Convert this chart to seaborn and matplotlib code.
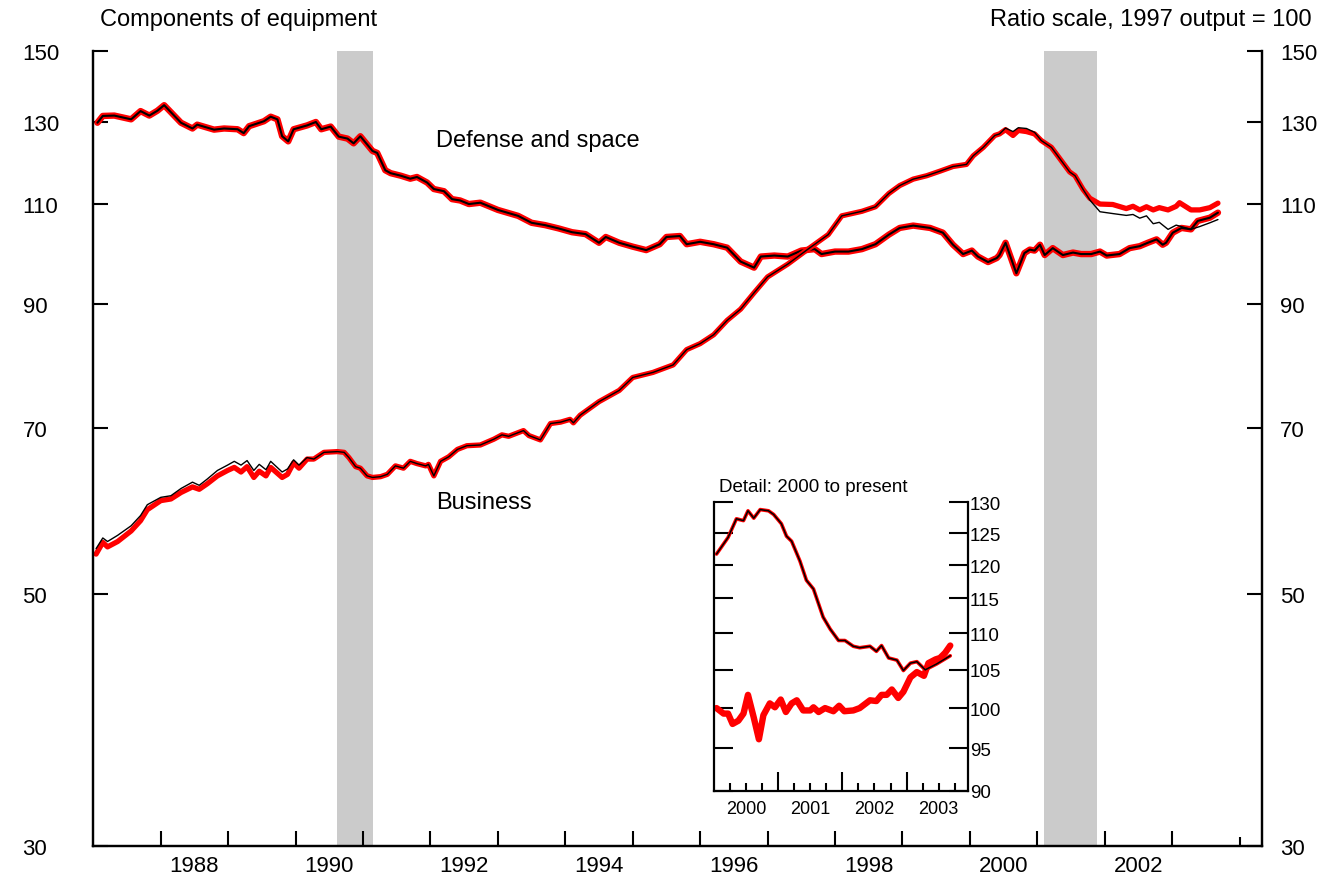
import numpy as np
import pandas as pd
import matplotlib
matplotlib.use("Agg")
import matplotlib.pyplot as plt
import seaborn as sns

# --- data (year fraction, index 1997 = 100) ---
business_t = [1987.04, 1987.14, 1987.21, 1987.36, 1987.56, 1987.70, 1987.80, 1988.00, 1988.15, 1988.30,
              1988.47, 1988.57, 1988.69, 1988.84, 1988.99, 1989.09, 1989.19, 1989.28, 1989.38, 1989.46,
              1989.56, 1989.63, 1989.80, 1989.88, 1989.97, 1990.05, 1990.17, 1990.27, 1990.42, 1990.62,
              1990.72, 1990.79, 1990.89, 1990.96, 1991.06, 1991.14, 1991.26, 1991.36, 1991.48, 1991.60,
              1991.70, 1991.80, 1991.93, 1991.97, 1992.05, 1992.15, 1992.27, 1992.40, 1992.54, 1992.74,
              1992.94, 1993.06, 1993.16, 1993.38, 1993.46, 1993.63, 1993.78, 1993.93, 1994.07, 1994.12,
              1994.22, 1994.50, 1994.80, 1995.00, 1995.30, 1995.60, 1995.80, 1996.00, 1996.20, 1996.40,
              1996.60, 1996.80, 1997.00, 1997.30, 1997.60, 1997.90, 1998.10, 1998.40, 1998.60, 1998.80,
              1998.96, 1999.16, 1999.36, 1999.56, 1999.75, 1999.95, 2000.05, 2000.20, 2000.37, 2000.44,
              2000.53, 2000.64, 2000.72, 2000.84, 2000.96, 2001.06, 2001.21, 2001.33, 2001.48, 2001.56,
              2001.68, 2001.78, 2001.93, 2002.12, 2002.32, 2002.42, 2002.52, 2002.62, 2002.72, 2002.81,
              2002.94, 2003.06, 2003.11, 2003.28, 2003.41, 2003.56, 2003.68]
business_new = [54.2, 55.5, 55.0, 55.6, 56.8, 58.0, 59.3, 60.4, 60.6, 61.4,
                62.1, 61.8, 62.5, 63.5, 64.2, 64.6, 64.0, 64.7, 63.3, 64.1,
                63.5, 64.6, 63.3, 63.7, 65.2, 64.5, 65.7, 65.7, 66.6, 66.7,
                66.6, 65.9, 64.7, 64.5, 63.5, 63.3, 63.4, 63.7, 64.8, 64.5,
                65.4, 65.1, 64.8, 65.0, 63.5, 65.4, 66.0, 67.0, 67.5, 67.6,
                68.4, 69.0, 68.8, 69.6, 68.9, 68.3, 70.6, 70.8, 71.2, 70.7,
                71.8, 73.8, 75.5, 77.5, 78.3, 79.5, 82.0, 83.0, 84.5, 87.0,
                89.0, 92.0, 95.0, 97.5, 100.5, 103.5, 107.5, 108.5, 109.5, 112.5,
                114.3, 115.8, 116.6, 117.7, 118.8, 119.3, 121.4, 123.5, 126.5, 126.9,
                128.0, 126.5, 127.8, 127.5, 126.9, 125.2, 123.5, 120.8, 117.5, 116.6,
                113.4, 111.4, 110.1, 110.0, 109.1, 109.6, 108.8, 109.5, 108.8, 109.3,
                108.8, 109.6, 110.4, 108.8, 108.8, 109.3, 110.3]
business_old = [54.8, 56.0, 55.6, 56.3, 57.4, 58.6, 59.9, 60.8, 61.0, 61.9,
                62.7, 62.3, 63.1, 64.2, 64.9, 65.4, 64.9, 65.5, 64.2, 65.0,
                64.3, 65.4, 64.0, 64.4, 65.6, 64.9, 65.9, 65.7, 66.6, 66.7,
                66.6, 65.9, 64.7, 64.5, 63.5, 63.3, 63.4, 63.7, 64.8, 64.5,
                65.4, 65.1, 64.8, 65.0, 63.5, 65.4, 66.0, 67.0, 67.5, 67.6,
                68.4, 69.0, 68.8, 69.6, 68.9, 68.3, 70.6, 70.8, 71.2, 70.7,
                71.8, 73.8, 75.5, 77.5, 78.3, 79.5, 82.0, 83.0, 84.5, 87.0,
                89.0, 92.0, 95.0, 97.5, 100.5, 103.5, 107.5, 108.5, 109.5, 112.5,
                114.3, 115.8, 116.6, 117.7, 118.8, 119.3, 121.4, 123.5, 126.5, 126.9,
                128.4, 127.5, 128.5, 128.3, 127.3, 125.2, 123.5, 120.8, 117.5, 116.6,
                113.4, 111.0, 108.4, 108.0, 107.6, 107.8, 107.0, 107.5, 105.8, 106.1,
                104.6, 105.5, 105.3, 104.6, 105.2, 106.0, 106.7]

defense_t = [1987.06, 1987.14, 1987.31, 1987.56, 1987.70, 1987.83, 1987.95, 1988.05, 1988.30, 1988.47,
             1988.54, 1988.79, 1988.94, 1989.14, 1989.23, 1989.31, 1989.53, 1989.63, 1989.73, 1989.80,
             1989.89, 1989.97, 1990.17, 1990.30, 1990.38, 1990.52, 1990.64, 1990.77, 1990.86, 1990.96,
             1991.14, 1991.21, 1991.33, 1991.41, 1991.56, 1991.70, 1991.80, 1991.95, 1992.05, 1992.20,
             1992.32, 1992.44, 1992.57, 1992.74, 1993.00, 1993.30, 1993.50, 1993.70, 1993.90, 1994.10,
             1994.30, 1994.50, 1994.60, 1994.80, 1995.00, 1995.20, 1995.40, 1995.50, 1995.70, 1995.80,
             1996.00, 1996.20, 1996.40, 1996.60, 1996.80, 1996.90, 1997.10, 1997.30, 1997.50, 1997.70,
             1997.80, 1998.00, 1998.20, 1998.40, 1998.60, 1998.80, 1998.96, 1999.16, 1999.41, 1999.60,
             1999.75, 1999.90, 2000.03, 2000.12, 2000.27, 2000.40, 2000.44, 2000.53, 2000.69, 2000.81,
             2000.89, 2000.96, 2001.04, 2001.11, 2001.23, 2001.38, 2001.53, 2001.65, 2001.80, 2001.93,
             2002.03, 2002.22, 2002.37, 2002.52, 2002.64, 2002.77, 2002.86, 2002.91, 2003.01, 2003.14,
             2003.28, 2003.38, 2003.56, 2003.68]
defense_val = [129.8, 131.6, 131.7, 130.7, 132.9, 131.7, 133.0, 134.5, 129.8, 128.3,
               129.3, 128.0, 128.3, 128.1, 127.1, 128.9, 130.2, 131.4, 130.7, 126.3,
               125.0, 128.1, 129.1, 130.0, 128.1, 128.8, 126.2, 125.7, 124.5, 126.3,
               122.6, 122.1, 117.9, 117.2, 116.6, 115.9, 116.3, 115.0, 113.5, 113.0,
               111.2, 110.9, 110.1, 110.4, 108.8, 107.5, 106.0, 105.5, 104.8, 104.0,
               103.6, 101.8, 103.0, 101.8, 101.0, 100.3, 101.5, 103.0, 103.2, 101.5,
               102.0, 101.5, 100.8, 98.0, 96.8, 99.0, 99.2, 99.0, 100.2, 100.5,
               99.5, 100.0, 100.0, 100.5, 101.5, 103.5, 104.9, 105.4, 104.9, 103.9,
               101.4, 99.5, 100.2, 99.0, 97.9, 98.7, 99.3, 101.8, 95.7, 99.7,
               100.4, 100.2, 101.4, 99.3, 100.7, 99.3, 99.8, 99.5, 99.5, 100.0,
               99.2, 99.5, 100.7, 101.1, 101.8, 102.5, 101.4, 101.8, 103.9, 104.9,
               104.6, 106.4, 107.1, 108.2]

# detail panel, 2000 to present
inset_bus_t = [2000.04, 2000.22, 2000.35, 2000.46, 2000.53, 2000.62, 2000.72, 2000.85, 2000.93, 2001.05,
               2001.13, 2001.21, 2001.34, 2001.44, 2001.55, 2001.70, 2001.81, 2001.94, 2002.04, 2002.17,
               2002.27, 2002.43, 2002.53, 2002.61, 2002.72, 2002.85, 2002.95, 2003.06, 2003.16, 2003.29,
               2003.47, 2003.68]
inset_bus = [121.7, 124.3, 127.3, 127.0, 128.6, 127.4, 128.8, 128.6, 128.0, 126.5,
             124.5, 123.7, 120.6, 117.7, 116.4, 112.3, 110.6, 109.0, 109.0, 108.2,
             108.0, 108.2, 107.5, 108.3, 106.6, 106.3, 104.9, 105.9, 106.1, 105.0,
             105.8, 106.9]
inset_def_t = [2000.04, 2000.15, 2000.22, 2000.29, 2000.38, 2000.46, 2000.53, 2000.62, 2000.70, 2000.77,
               2000.87, 2000.95, 2001.04, 2001.12, 2001.21, 2001.29, 2001.39, 2001.50, 2001.55, 2001.63,
               2001.73, 2001.86, 2001.95, 2002.03, 2002.17, 2002.27, 2002.43, 2002.53, 2002.61, 2002.69,
               2002.77, 2002.87, 2002.95, 2003.06, 2003.16, 2003.27, 2003.34, 2003.45, 2003.52, 2003.60,
               2003.68]
inset_def = [100.0, 99.3, 99.3, 98.0, 98.4, 99.3, 101.7, 98.8, 96.1, 99.1,
             100.6, 100.1, 101.1, 99.5, 100.6, 101.0, 99.7, 99.7, 100.1, 99.5,
             100.0, 99.6, 100.3, 99.6, 99.7, 100.0, 101.0, 100.9, 101.7, 101.7,
             102.4, 101.3, 102.1, 104.0, 104.7, 104.2, 105.9, 106.4, 106.6, 107.3,
             108.3]

recessions = [(1990.62, 1991.15), (2001.10, 2001.89)]
main_yticks = [30, 50, 70, 90, 110, 130, 150]
inset_yticks = [90, 95, 100, 105, 110, 115, 120, 125, 130]
year_labels = ["1988", "1990", "1992", "1994", "1996", "1998", "2000", "2002"]

bus = pd.DataFrame({"t": business_t, "new": business_new, "old": business_old})
dfn = pd.DataFrame({"t": defense_t, "v": defense_val})
ibus = pd.DataFrame({"t": inset_bus_t, "v": inset_bus})
idef = pd.DataFrame({"t": inset_def_t, "v": inset_def})

sns.set_theme(style="white")
plt.rcParams["font.family"] = ["Liberation Sans", "DejaVu Sans"]
plt.rcParams.update({"text.color": "black", "xtick.color": "black", "ytick.color": "black",
                     "axes.edgecolor": "black"})
RED = "#ff0000"
SHADE = "#cbcbcb"
FS = 16

fig = plt.figure(figsize=(13.3, 8.79), dpi=100)
ax = fig.add_axes([0.0702, 0.0361, 0.8785, 0.9044])

for a, b in recessions:
    ax.axvspan(a, b, color=SHADE, lw=0, zorder=0)

sns.lineplot(data=dfn, x="t", y="v", ax=ax, color=RED, lw=4.6, sort=False, estimator=None)
sns.lineplot(data=dfn, x="t", y="v", ax=ax, color="black", lw=1.5, sort=False, estimator=None)
sns.lineplot(data=bus, x="t", y="new", ax=ax, color=RED, lw=3.8, sort=False, estimator=None)
sns.lineplot(data=bus, x="t", y="old", ax=ax, color="black", lw=1.0, sort=False, estimator=None)

ax.set_yscale("log")
ax.set_ylim(30, 150)
ax.set_xlim(1987.0, 2004.33)
ax.set_xlabel("")
ax.set_ylabel("")
ax.yaxis.set_minor_locator(matplotlib.ticker.NullLocator())
ax.set_yticks(main_yticks)
ax.set_yticklabels([str(v) for v in main_yticks], ha="left")
ax.tick_params(axis="y", which="major", direction="in", length=11, width=1.5,
               pad=51, labelsize=FS, left=True)

ax.set_xticks(range(1988, 2005))
ax.set_xticklabels([])
ax.set_xticks([int(s) + 0.5 for s in year_labels], minor=True)
ax.set_xticklabels(year_labels, minor=True)
ax.tick_params(axis="x", which="major", direction="in", length=11, width=1.5, bottom=True)
ax.tick_params(axis="x", which="minor", length=0, pad=6, labelsize=FS)
ax.xaxis.get_major_ticks()[-1].tick1line.set_markersize(6.5)

axr = ax.twinx()
axr.set_yscale("log")
axr.set_ylim(30, 150)
axr.yaxis.set_minor_locator(matplotlib.ticker.NullLocator())
axr.set_yticks(main_yticks)
axr.set_yticklabels([str(v) for v in main_yticks])
axr.tick_params(axis="y", which="major", direction="in", length=11, width=1.5,
                pad=13, labelsize=FS, right=True)

for a in (ax, axr):
    a.spines["top"].set_visible(False)
    for s in ("left", "right", "bottom"):
        a.spines[s].set_linewidth(1.6)

fig.text(100 / 1330, 1 - 20 / 879, "Components of equipment", fontsize=17, va="center")
fig.text(1312 / 1330, 1 - 20 / 879, "Ratio scale, 1997 output = 100", fontsize=17,
         va="center", ha="right")
fig.text(436 / 1330, 1 - 141 / 879, "Defense and space", fontsize=17, va="center")
fig.text(436 / 1330, 1 - 503 / 879, "Business", fontsize=17, va="center")

# --- inset ---
axi = fig.add_axes([0.5368, 0.0993, 0.1912, 0.3281])
sns.lineplot(data=idef, x="t", y="v", ax=axi, color=RED, lw=4.6, sort=False, estimator=None)
sns.lineplot(data=ibus, x="t", y="v", ax=axi, color=RED, lw=2.6, sort=False, estimator=None)
sns.lineplot(data=ibus, x="t", y="v", ax=axi, color="black", lw=1.1, sort=False, estimator=None)
axi.set_yscale("log")
axi.set_ylim(90, 130)
axi.set_xlim(2000.0, 2003.96)
axi.set_xlabel("")
axi.set_ylabel("")
axi.yaxis.set_minor_locator(matplotlib.ticker.NullLocator())
axi.set_yticks(inset_yticks)
axi.set_yticklabels([str(v) for v in inset_yticks])
axi.tick_params(axis="y", which="major", direction="in", length=14, width=1.5, pad=1,
                labelsize=13.5, left=True, right=True, labelleft=False, labelright=True)
axi.set_xticks([2001, 2002, 2003])
axi.set_xticklabels([])
quarters = [y + q for y in range(2000, 2004) for q in (0.25, 0.5, 0.75)]
axi.set_xticks(quarters, minor=True)
axi.set_xticklabels([str(int(q)) if abs(q % 1 - 0.5) < 1e-6 else "" for q in quarters],
                    minor=True)
axi.tick_params(axis="x", which="major", direction="in", length=14, width=1.5, bottom=True)
axi.tick_params(axis="x", which="minor", direction="in", length=6, width=1.5, bottom=True,
                pad=7, labelsize=13)
axi.spines["top"].set_visible(False)
for s in ("left", "right", "bottom"):
    axi.spines[s].set_linewidth(1.6)
axi.set_facecolor("white")
fig.text(719 / 1330, 1 - 488 / 879, "Detail: 2000 to present", fontsize=13.5, va="center")

fig.savefig("out.png", dpi=100)
